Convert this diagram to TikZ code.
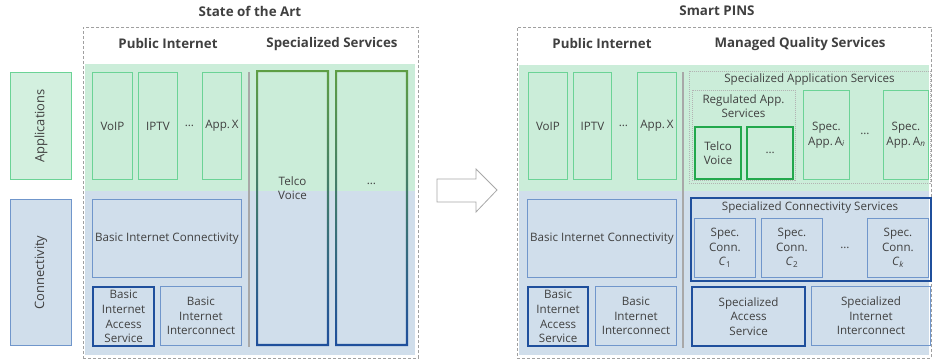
\documentclass[tikz,border=0pt]{standalone}
\usepackage{fontspec}
\setmainfont{Open Sans}
\usetikzlibrary{positioning}
\definecolor{txt}{HTML}{404040}
\definecolor{gband}{HTML}{CBEDD9}
\definecolor{bband}{HTML}{D0DEEB}
\definecolor{gline}{HTML}{6BD396}
\definecolor{bline}{HTML}{7096CB}
\definecolor{gthick}{HTML}{22A84C}
\definecolor{bthick}{HTML}{1F4F9C}
\definecolor{olive}{HTML}{5E9E45}
\definecolor{sepgray}{HTML}{A8A8A8}
\definecolor{dashgray}{HTML}{A0A0A0}
\newcommand{\subx}[1]{\textsubscript{\itshape #1}}
\tikzset{
  x=1pt,y=-1pt,
  every node/.style={text=txt,font=\fontsize{11.6}{14.6}\selectfont,align=center,inner sep=1pt},
  gbox/.style={draw=gline,line width=0.9pt},
  bbox/.style={draw=bline,line width=0.9pt},
  gbold/.style={draw=gthick,line width=2.2pt},
  bbold/.style={draw=bthick,line width=2.2pt},
  ttl/.style={font=\fontsize{13.4}{16}\selectfont\bfseries},
  hdr/.style={font=\fontsize{13.3}{16}\selectfont\bfseries},
  side/.style={rotate=90,font=\fontsize{12.9}{15}\selectfont},
  outer/.style={draw=dashgray,line width=0.7pt,dash pattern=on 3pt off 2pt},
  inner dash/.style={draw=dashgray!80,dash pattern=on 1pt off 1pt,line width=0.6pt},
  sep/.style={draw=sepgray,line width=2.4pt},
}
\newcommand{\bx}[7][]{%
  \pgfmathsetmacro\bw{#5-#3}\pgfmathsetmacro\bh{#6-#4}%
  \node[#1,minimum width=\bw pt,minimum height=\bh pt,anchor=north west] (#2) at (#3,#4) {#7};}
\begin{document}
\begin{tikzpicture}
\useasboundingbox (0,0) rectangle (933,362);
% titles
\node[ttl] (t1) at (250,11) {State of the Art};
\node[ttl] (t2) at (717,11) {Smart PINS};
% outer dashed boxes
\bx[outer]{ol}{83}{27}{418}{358}{}
\bx[outer]{or}{517}{27}{931}{358}{}
% bands
\fill[gband] (85,64) rectangle (415,191);
\fill[bband] (85,191) rectangle (415,355);
\fill[gband] (519,65) rectangle (929,191);
\fill[bband] (519,191) rectangle (929,355);
% headers
\node[hdr] (h1) at (168,44) {Public Internet};
\node[hdr] (h2) at (332,44) {Specialized Services};
\node[hdr] (h3) at (602,44) {Public Internet};
\node[hdr] (h4) at (800,44) {Managed Quality Services};
% side labels
\bx[draw=gline,fill=gband!85!white,line width=0.9pt]{app}{10}{72}{71}{179}{}
\node[side] (appl) at (app.center) {Applications};
\bx[draw=bline,fill=bband,line width=0.9pt]{con}{10}{199}{71}{345}{}
\node[side] (conl) at (con.center) {Connectivity};
% separators
\draw[sep] (249,72) coordinate (s1a) -- (249,347) coordinate (s1b);
\draw[sep] (683,72) coordinate (s2a) -- (683,348) coordinate (s2b);
% ---------- left panel ----------
\bx[gbox]{voip1}{92}{72}{132}{179}{VoIP}
\bx[gbox]{iptv1}{138}{72}{177}{179}{IPTV}
\node (d1) at (189.5,126) {\textellipsis};
\bx[gbox]{appx1}{202}{72}{241}{179}{App.\,X}
\bx[bbox]{bic1}{92}{199}{241}{277}{Basic Internet Connectivity}
\bx[bbold]{bias1}{92}{286}{153}{345}{Basic\\Internet\\Access\\Service}
\bx[bbox]{bii1}{160}{286}{241}{345}{Basic\\Internet\\Interconnect}
% gradient bordered columns
\shade[top color=olive,bottom color=bthick,even odd rule]
  (256,70) rectangle (329,346) (258.2,72.2) rectangle (326.8,343.8);
\shade[top color=olive,bottom color=bthick,even odd rule]
  (335,70) rectangle (408,346) (337.2,72.2) rectangle (405.8,343.8);
\node (tv1) at (292.5,188) {Telco\\Voice};
\node (dd1) at (371.5,184) {\textellipsis};
% arrow
\draw[draw=sepgray,fill=white,line width=0.8pt]
  (437,179) -- (476,179) -- (476,169) -- (497,190) -- (476,212) -- (476,202) -- (437,202) -- cycle;
% ---------- right panel ----------
\bx[gbox]{voip2}{528}{72}{567}{179}{VoIP}
\bx[gbox]{iptv2}{573}{72}{611}{179}{IPTV}
\node (d2) at (623.5,126) {\textellipsis};
\bx[gbox]{appx2}{637}{72}{676}{179}{App.\,X}
\bx[inner dash]{sas}{689}{71}{930}{183}{}
\node (sasl) at (809.5,79) {Specialized Application Services};
\bx[inner dash]{ras}{692}{90}{795}{180}{}
\node (rasl) at (743.5,106) {Regulated App.\\Services};
\bx[gbold]{tv2}{694}{126}{740}{178}{Telco\\Voice}
\bx[gbold]{dd2}{746}{126}{792}{178}{\textellipsis}
\bx[gbox]{ai}{803}{90}{849}{179}{Spec.\\App.\,A\subx{i}}
\node (d3) at (865,134) {\textellipsis};
\bx[gbox]{an}{883}{90}{928}{179}{Spec.\\App.\,A\subx{n}}
\bx[bbox]{bic2}{527}{199}{676}{277}{Basic Internet Connectivity}
\bx[bbold]{bias2}{527}{286}{587}{345}{Basic\\Internet\\Access\\Service}
\bx[bbox]{bii2}{595}{286}{676}{345}{Basic\\Internet\\Interconnect}
\bx[bbold]{scs}{690}{197}{930}{280}{}
\node (scsl) at (810,207) {Specialized Connectivity Services};
\bx[bbox]{c1}{694}{218}{755}{277}{Spec.\\Conn.\\\textit{C}\textsubscript{1}}
\bx[bbox]{c2}{761}{218}{822}{277}{Spec.\\Conn.\\\textit{C}\textsubscript{2}}
\node (d4) at (845,248) {\textellipsis};
\bx[bbox]{ck}{867}{218}{928}{277}{Spec.\\Conn.\\\textit{C}\subx{k}}
\bx[bbold]{sacc}{691}{286}{804}{345}{Specialized\\Access\\Service}
\bx[bbox]{sii}{811}{286}{930}{345}{Specialized\\Internet\\Interconnect}
\end{tikzpicture}
\end{document}
